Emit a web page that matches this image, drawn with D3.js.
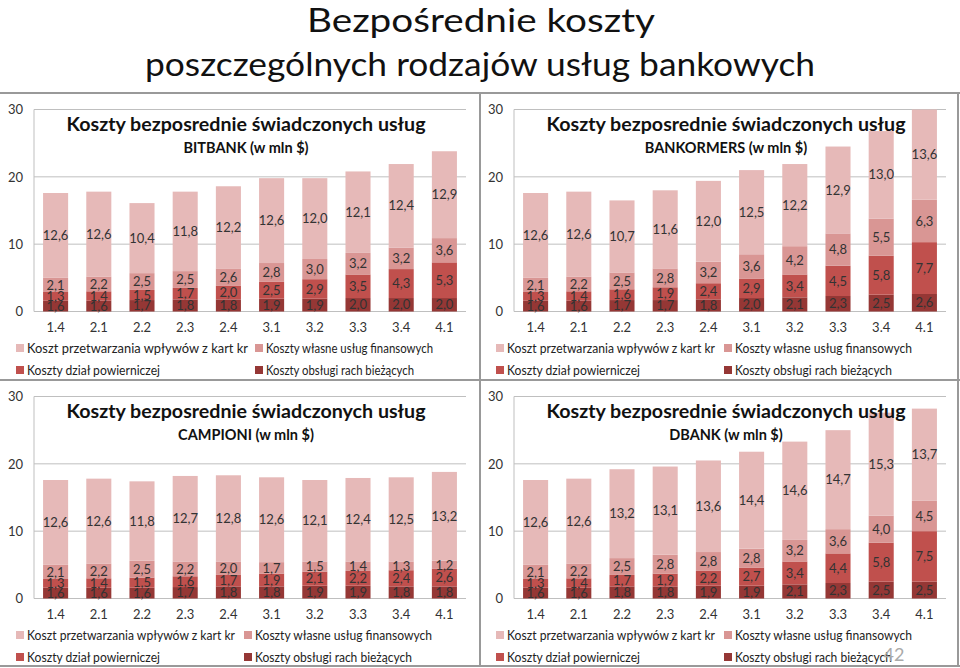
<!DOCTYPE html>
<html><head><meta charset="utf-8">
<script src="https://cdn.jsdelivr.net/npm/d3@7"></script>
<style>body{margin:0;background:#fff} svg{display:block}</style>
</head><body><svg id="c" width="960" height="668"></svg>
<script>
const categories = ["1.4","2.1","2.2","2.3","2.4","3.1","3.2","3.3","3.4","4.1"];
const seriesNames = ["Koszty obsługi rach bieżących","Koszty dział powierniczej","Koszty własne usług finansowych","Koszt przetwarzania wpływów z kart kr"];
const seriesColors = ["#953735","#c0504d","#d99694","#e6b9b8"];
const yTicks = [0,10,20,30];

const bitbankObslugi = [1.6,1.6,1.7,1.8,1.8,1.9,1.9,2.0,2.0,2.0];
const bitbankDzial   = [1.3,1.4,1.5,1.7,2.0,2.5,2.9,3.5,4.3,5.3];
const bitbankWlasne  = [2.1,2.2,2.5,2.5,2.6,2.8,3.0,3.2,3.2,3.6];
const bitbankPrzetw  = [12.6,12.6,10.4,11.8,12.2,12.6,12.0,12.1,12.4,12.9];

const bankormersObslugi = [1.6,1.6,1.7,1.7,1.8,2.0,2.1,2.3,2.5,2.6];
const bankormersDzial   = [1.3,1.4,1.6,1.9,2.4,2.9,3.4,4.5,5.8,7.7];
const bankormersWlasne  = [2.1,2.2,2.5,2.8,3.2,3.6,4.2,4.8,5.5,6.3];
const bankormersPrzetw  = [12.6,12.6,10.7,11.6,12.0,12.5,12.2,12.9,13.0,13.6];

const campioniObslugi = [1.6,1.6,1.6,1.7,1.8,1.8,1.9,1.9,1.8,1.8];
const campioniDzial   = [1.3,1.4,1.5,1.6,1.7,1.9,2.1,2.2,2.4,2.6];
const campioniWlasne  = [2.1,2.2,2.5,2.2,2.0,1.7,1.5,1.4,1.3,1.2];
const campioniPrzetw  = [12.6,12.6,11.8,12.7,12.8,12.6,12.1,12.4,12.5,13.2];

const dbankObslugi = [1.6,1.6,1.8,1.8,1.9,1.9,2.1,2.3,2.5,2.5];
const dbankDzial   = [1.3,1.4,1.7,1.9,2.2,2.7,3.4,4.4,5.8,7.5];
const dbankWlasne  = [2.1,2.2,2.5,2.8,2.8,2.8,3.2,3.6,4.0,4.5];
const dbankPrzetw  = [12.6,12.6,13.2,13.1,13.6,14.4,14.6,14.7,15.3,13.7];

const pageTitle1 = "Bezpośrednie koszty";
const pageTitle2 = "poszczególnych rodzajów usług bankowych";
const chartTitle = "Koszty bezposrednie świadczonych usług";

// legend text widths indexed like seriesNames
const panels = [
  {sub:"BITBANK (w mln $)", x:0, y:93, col2:255, lw:[148,133,167,221], series:[bitbankObslugi,bitbankDzial,bitbankWlasne,bitbankPrzetw]},
  {sub:"BANKORMERS (w mln $)", x:480, y:93, col2:244, lw:[157,133,177,208], series:[bankormersObslugi,bankormersDzial,bankormersWlasne,bankormersPrzetw]},
  {sub:"CAMPIONI (w mln $)", x:0, y:380, col2:244, lw:[157,133,177,208], series:[campioniObslugi,campioniDzial,campioniWlasne,campioniPrzetw]},
  {sub:"DBANK (w mln $)", x:480, y:380, col2:244, lw:[157,133,177,208], series:[dbankObslugi,dbankDzial,dbankWlasne,dbankPrzetw]}
];

const FONT = "Lato, 'Open Sans', sans-serif";
const svg = d3.select("#c");
svg.append("rect").attr("width",960).attr("height",668).attr("fill","#fff");

svg.append("text").attr("x",481).attr("y",32).attr("text-anchor","middle")
  .attr("font-family",FONT).attr("font-size",33).attr("fill","#111")
  .attr("textLength",348).attr("lengthAdjust","spacingAndGlyphs").text(pageTitle1);
svg.append("text").attr("x",480).attr("y",76).attr("text-anchor","middle")
  .attr("font-family",FONT).attr("font-size",33).attr("fill","#111")
  .attr("textLength",670).attr("lengthAdjust","spacingAndGlyphs").text(pageTitle2);

const fmt = v => d3.format(".1f")(v).replace(".", ",");
const keys = seriesNames;

panels.forEach(p => {
  const g = svg.append("g").attr("transform",`translate(${p.x},${p.y})`);
  const rows = categories.map((c,i) => {
    const r = {cat:c};
    keys.forEach((k,j) => r[k] = p.series[j][i]);
    return r;
  });
  const stacked = d3.stack().keys(keys)(rows);
  const x = d3.scaleBand().domain(categories).range([34,466]).paddingInner(0.42).paddingOuter(0.21);
  const y = d3.scaleLinear().domain([0,30]).range([218.5,16.5]).clamp(true);

  g.append("g").selectAll("line").data(yTicks).join("line")
    .attr("x1",34).attr("x2",466).attr("y1",d=>y(d)).attr("y2",d=>y(d))
    .attr("stroke","#bfbfbf").attr("stroke-width",1);
  g.append("line").attr("x1",34).attr("x2",34).attr("y1",y(30)).attr("y2",y(0))
    .attr("stroke","#bfbfbf").attr("stroke-width",1);

  const yAxis = d3.axisLeft(y).tickValues(yTicks).tickSize(0).tickPadding(11);
  const ya = g.append("g").attr("transform","translate(34,0)").call(yAxis);
  ya.select(".domain").remove();
  ya.selectAll("text").attr("font-family",FONT).attr("font-size",13).attr("fill","#333");

  const xAxis = d3.axisBottom(x).tickSize(0).tickPadding(0);
  const xa = g.append("g").attr("transform",`translate(0,${y(0)+16})`).call(xAxis);
  xa.select(".domain").remove();
  xa.selectAll("text").attr("font-family",FONT).attr("font-size",13).attr("fill","#333").attr("dy","0.35em");

  stacked.forEach((s,si) => {
    g.append("g").selectAll("rect").data(s).join("rect")
      .attr("x",d=>x(d.data.cat)).attr("width",x.bandwidth())
      .attr("y",d=>y(d[1])).attr("height",d=>y(d[0])-y(d[1]))
      .attr("fill",seriesColors[si]);
  });
  stacked.forEach((s,si) => {
    g.append("g").selectAll("text").data(s).join("text")
      .attr("x",d=>x(d.data.cat)+x.bandwidth()/2)
      .attr("y",d=>(y(d[0])+y(d[1]))/2)
      .attr("dy","0.36em").attr("text-anchor","middle")
      .attr("font-family",FONT).attr("font-size",13).attr("fill","#333")
      .text(d=>fmt(d[1]-d[0]));
  });

  g.append("text").attr("x",246).attr("y",37.5).attr("text-anchor","middle")
    .attr("font-family",FONT).attr("font-weight","bold").attr("font-size",19).attr("fill","#111")
    .attr("textLength",359).attr("lengthAdjust","spacingAndGlyphs").text(chartTitle);
  g.append("text").attr("x",246).attr("y",59.5).attr("text-anchor","middle")
    .attr("font-family",FONT).attr("font-weight","bold").attr("font-size",14.5).attr("fill","#111")
    .text(p.sub);

  const legendItems = [
    {i:3, col:0, row:0}, {i:2, col:1, row:0},
    {i:1, col:0, row:1}, {i:0, col:1, row:1}
  ];
  legendItems.forEach(li => {
    const lx = li.col === 0 ? 16 : p.col2;
    const ly = 255 + li.row*22;
    g.append("rect").attr("x",lx).attr("y",ly-4).attr("width",8).attr("height",8).attr("fill",seriesColors[li.i]);
    g.append("text").attr("x",lx+11).attr("y",ly).attr("dy","0.35em")
      .attr("font-family",FONT).attr("font-size",13).attr("fill","#222")
      .attr("textLength",p.lw[li.i]).attr("lengthAdjust","spacingAndGlyphs")
      .text(seriesNames[li.i]);
  });
});

const frame = svg.append("g").attr("stroke","#999").attr("stroke-width",2);
[[0,93,960,93],[0,380,960,380],[0,666,960,666],[480,93,480,666],[958,93,958,666]].forEach(l=>{
  frame.append("line").attr("x1",l[0]).attr("y1",l[1]).attr("x2",l[2]).attr("y2",l[3]);
});

svg.append("text").attr("x",894).attr("y",661).attr("text-anchor","middle")
  .attr("font-family",FONT).attr("font-size",18).attr("fill","#aaa").text("42");
</script>
</body></html>
